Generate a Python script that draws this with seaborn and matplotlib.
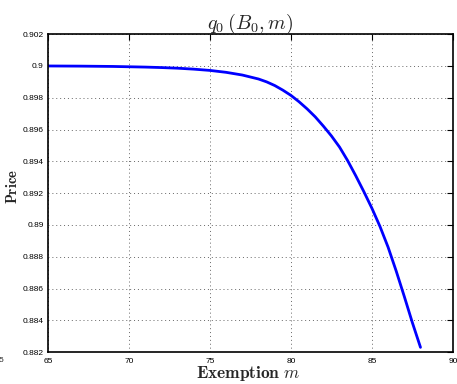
import numpy as np
import pandas as pd
import matplotlib
matplotlib.use("Agg")
import matplotlib.pyplot as plt
from matplotlib.ticker import FormatStrFormatter
import seaborn as sns

# values
exemption = [65, 67, 69, 70, 71, 72, 73, 74, 75, 76, 77, 78, 78.5, 79, 79.5,
             80, 80.5, 81, 81.5, 82, 82.5, 83, 83.5, 84, 84.5, 85, 85.5,
             86, 86.5, 87, 87.5, 88]
price = [0.90000, 0.89999, 0.89997, 0.89995, 0.89993, 0.89990, 0.89986, 0.89980,
         0.89972, 0.89960, 0.89943, 0.89918, 0.89900, 0.89877, 0.89848,
         0.89815, 0.89775, 0.89730, 0.89680, 0.89622, 0.89560, 0.89490, 0.89405,
         0.89310, 0.89210, 0.89105, 0.88990, 0.88860, 0.88710, 0.88550, 0.88385,
         0.88230]

xticks = [65, 70, 75, 80, 85, 90]
yticks = [0.882, 0.884, 0.886, 0.888, 0.89, 0.892, 0.894, 0.896, 0.898, 0.9, 0.902]

df = pd.DataFrame({'m': exemption, 'price': price})

sns.set_theme(style='white')
plt.rcParams['font.family'] = ['Liberation Sans', 'DejaVu Sans']
plt.rcParams['mathtext.fontset'] = 'cm'

fig = plt.figure(figsize=(4.57, 3.84), dpi=100)
ax = fig.add_axes([0.105, 0.083, 0.886, 0.828])

sns.lineplot(data=df, x='m', y='price', ax=ax, color='#0000ff', linewidth=2.0)

ax.set_xlim(65, 90)
ax.set_ylim(0.882, 0.902)
ax.set_xticks(xticks)
ax.set_yticks(yticks)
ax.yaxis.set_major_formatter(FormatStrFormatter('%g'))
ax.tick_params(direction='in', length=4, width=0.8, labelsize=6, colors='black',
               top=True, right=True, pad=3)
ax.tick_params(axis='x', pad=4)
for s in ax.spines.values():
    s.set_color('black')
    s.set_linewidth(1.2)
ax.grid(True, linestyle=(0, (1, 3)), color='#666666', linewidth=0.7)

ax.set_title(r'$q_0\,(B_0, m)$', fontsize=14.5, pad=4)
ax.set_xlabel(r'$\mathbf{Exemption}\ m$', fontsize=12.5)
ax.xaxis.set_label_coords(0.495, -0.038)
ax.set_ylabel(r'$\mathbf{Price}$', fontsize=10.5)
ax.yaxis.set_label_coords(-0.069, 0.52)

fig.text(-0.002, 0.06, '5', fontsize=6, ha='left', va='center')

fig.savefig('out.png', dpi=100)
